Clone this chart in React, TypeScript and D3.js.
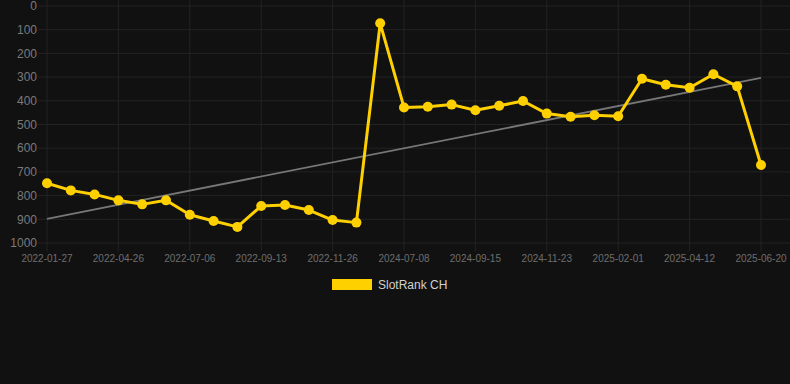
import React from 'react';
import * as d3 from 'd3';

// dates of each rank snapshot (only every third one is labelled on the axis)
const dates = [
  '2022-01-27', '2022-02-26', '2022-03-28', '2022-04-26', '2022-05-20', '2022-06-13',
  '2022-07-06', '2022-07-29', '2022-08-21', '2022-09-13', '2022-10-07', '2022-11-01',
  '2022-11-26', '2022-12-20', '2024-06-14', '2024-07-08', '2024-07-31', '2024-08-23',
  '2024-09-15', '2024-10-08', '2024-10-31', '2024-11-23', '2024-12-16', '2025-01-09',
  '2025-02-01', '2025-02-24', '2025-03-19', '2025-04-12', '2025-05-05', '2025-05-28',
  '2025-06-20',
];

const ranks = [
  748, 778, 795, 820, 837, 820, 881, 907, 932, 844, 840, 861, 903, 914,
  73, 428, 425, 416, 440, 421, 401, 454, 467, 461, 465, 307, 332, 345, 288, 339, 671,
];

const yTicks = [0, 100, 200, 300, 400, 500, 600, 700, 800, 900, 1000];
const seriesName = 'SlotRank CH';

const W = 790;
const H = 384;
const gold = '#ffd000';
const grid = '#232323';

// least squares trend over the point indices
const trend = (vals: number[]) => {
  const n = vals.length;
  const xm = d3.mean(vals, (_, i) => i) as number;
  const ym = d3.mean(vals) as number;
  let num = 0;
  let den = 0;
  vals.forEach((v, i) => {
    num += (i - xm) * (v - ym);
    den += (i - xm) * (i - xm);
  });
  const slope = num / den;
  return [ym - slope * xm, ym + slope * (n - 1 - xm)];
};

const App = () => {
  const x = d3.scalePoint<string>().domain(dates).range([47, 761]);
  const y = d3.scaleLinear().domain([0, 1000]).range([6, 243]);

  const line = d3.line<number>()
    .x((_, i) => x(dates[i]) as number)
    .y((d) => y(d));

  const [t0, t1] = trend(ranks);
  const labelled = dates.filter((_, i) => i % 3 === 0);

  return (
    <svg width={W} height={H} style={{ position: 'absolute', left: 0, top: 0, background: '#111111' }}
      fontFamily="'Liberation Sans', Arial, sans-serif">
      <rect width={W} height={H} fill="#111111" />

      {/* horizontal grid + y labels */}
      {yTicks.map((t) => (
        <g key={t}>
          <line x1={38} x2={W} y1={y(t)} y2={y(t)} stroke={grid} strokeWidth={1} />
          <text x={37} y={y(t)} dy="0.35em" textAnchor="end" fontSize={12} fill="#7a7a7a">{t}</text>
        </g>
      ))}

      {/* vertical grid + x labels */}
      {labelled.map((d) => (
        <g key={d}>
          <line x1={x(d)} x2={x(d)} y1={0} y2={251} stroke={grid} strokeWidth={1} />
          <text x={x(d)} y={258} dy="0.35em" textAnchor="middle" fontSize={10} fill="#6e6e6e">{d}</text>
        </g>
      ))}

      {/* trend line */}
      <line x1={x(dates[0])} x2={x(dates[dates.length - 1])} y1={y(t0)} y2={y(t1)}
        stroke="#777777" strokeWidth={1.8} />

      <path d={line(ranks) || ''} fill="none" stroke={gold} strokeWidth={3} strokeLinejoin="round" />
      {ranks.map((v, i) => (
        <circle key={i} cx={x(dates[i])} cy={y(v)} r={5} fill={gold} />
      ))}

      {/* legend */}
      <rect x={332} y={279} width={40} height={11} fill={gold} />
      <text x={378} y={285} dy="0.35em" fontSize={12} fill="#d0d0d0">{seriesName}</text>
    </svg>
  );
};

export default App;
